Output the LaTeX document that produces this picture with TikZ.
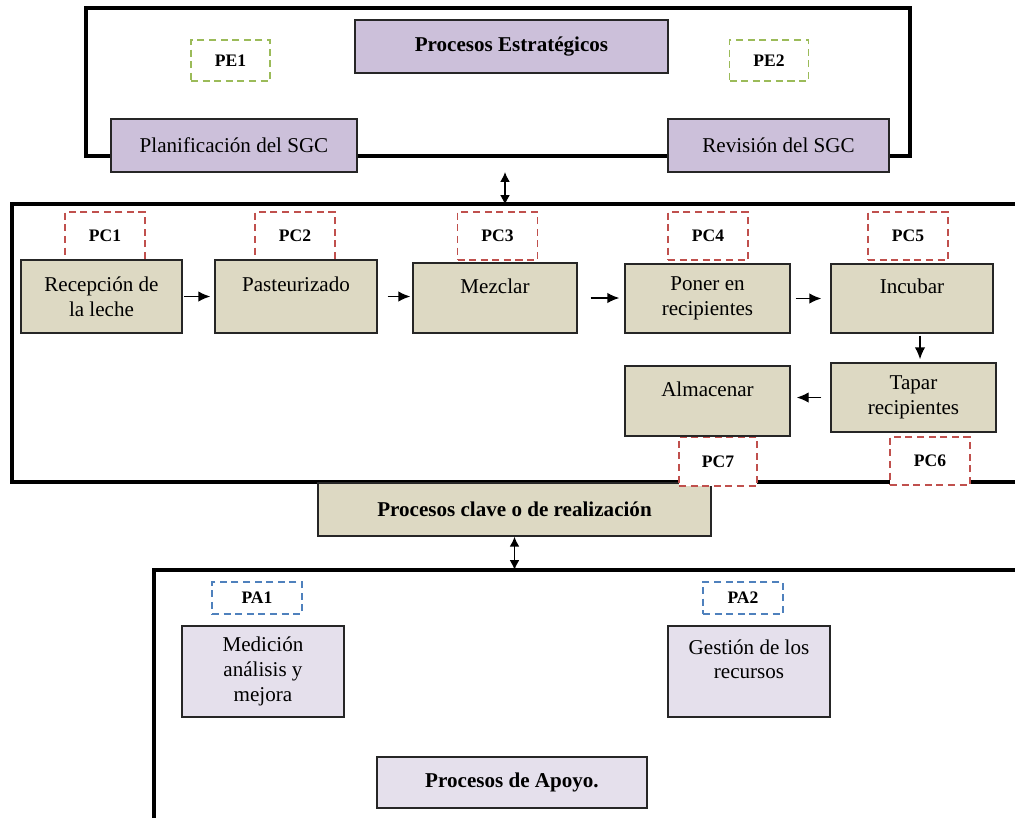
\documentclass[tikz,border=0pt]{standalone}
\usepackage{fontspec}
\setmainfont{Liberation Serif}
\usetikzlibrary{arrows.meta,positioning,calc}
\definecolor{lila}{HTML}{CCC0DA}
\definecolor{lilalight}{HTML}{E5E0EC}
\definecolor{tan}{HTML}{DDD9C3}
\definecolor{pegreen}{HTML}{9BBB59}
\definecolor{pcred}{HTML}{C0504D}
\definecolor{pablue}{HTML}{4F81BD}

\begin{document}
\begin{tikzpicture}[x=0.02cm,y=-0.02cm,font=\fontsize{12}{14}\selectfont,
  sz/.style 2 args={minimum width=#1*0.02cm,minimum height=#2*0.02cm},
  proc/.style={draw=black!85,line width=0.8pt,inner sep=1pt,align=center},
  title/.style={font=\fontsize{12}{14}\selectfont\bfseries},
  frame/.style={line width=2.4pt},
  tag/.style={draw=#1,dash pattern=on 4pt off 2.6pt,line width=1pt,fill=white,
              inner sep=0pt,font=\fontsize{10}{12}\selectfont\bfseries},
  flow/.style={-{Latex[length=2.4mm,width=2.1mm]},line width=0.8pt},
  link/.style={{Latex[length=2mm,width=2mm]}-{Latex[length=2mm,width=2mm]},line width=0.9pt}]
\clip (0,0) rectangle (1015,818);
% the three frames
\draw[frame] (86,8) rectangle (910,156);
\draw[frame] (12,204) rectangle (1040,482);
\draw[frame] (154,570) rectangle (1040,840);
% strategic processes
\node[proc,fill=lila,title,sz={313}{53}] (estr) at (511.5,46.5) {Procesos Estratégicos};
\node[tag=pegreen,sz={79}{41}] (pe1) at (230.5,60.5) {PE1};
\node[tag=pegreen,sz={79}{41}] (pe2) at (769,60.5) {PE2};
\node[proc,fill=lila,sz={246}{53}] (plan) at (234,145.5) {Planificación del SGC};
\node[proc,fill=lila,sz={221}{53}] (rev) at (778.5,145.5) {Revisión del SGC};
% key processes
\node[proc,fill=tan,title,sz={393}{53}] (clave) at (514.5,509.5) {Procesos clave o de realización};
\foreach \n/\x in {1/105,2/295,3/497.5,4/708,5/908}{
  \node[tag=pcred,sz={80}{48}] (pc\n) at (\x,236) {PC\n};
}
\node[tag=pcred,sz={78}{49}] (pc7) at (718,461.5) {PC7};
\node[tag=pcred,sz={80}{48}] (pc6) at (930,461) {PC6};
\node[proc,fill=tan,sz={161}{73}] (rec) at (101.5,296.5) {Recepción de\\la leche};
\node[proc,fill=tan,sz={162}{73}] (past) at (296,296.5) {Pasteurizado\\~};
\node[proc,fill=tan,sz={164}{70}] (mezc) at (495,298) {Mezclar\\~};
\node[proc,fill=tan,sz={165}{69}] (poner) at (707.5,298.5) {Poner en\\recipientes};
\node[proc,fill=tan,sz={162}{69}] (incub) at (912,298.5) {Incubar\\~};
\node[proc,fill=tan,sz={165}{69}] (tapar) at (913.5,397.5) {Tapar\\recipientes};
\node[proc,fill=tan,sz={165}{70}] (alm) at (707.5,401) {Almacenar\\~};
% flow arrows
\draw[flow,shorten <=0.3mm,shorten >=0.8mm] (rec.east) -- (rec.east -| past.west);
\draw[flow,shorten <=2mm,shorten >=0.4mm] (past.east) -- (past.east -| mezc.west);
\draw[flow,shorten <=2.6mm,shorten >=1mm] (mezc.east) -- (mezc.east -| poner.west);
\draw[flow,shorten <=1mm,shorten >=1.8mm] (poner.east) -- (poner.east -| incub.west);
\draw[flow,shorten <=0.4mm,shorten >=0.6mm] ([xshift=0.16cm]incub.south) -- ([xshift=0.16cm]incub.south |- tapar.north);
\draw[flow,shorten <=1.8mm,shorten >=1.2mm] (tapar.west) -- (tapar.west -| alm.east);
% support processes
\node[tag=pablue,sz={90}{32}] (pa1) at (257,598) {PA1};
\node[tag=pablue,sz={80}{32}] (pa2) at (743,598) {PA2};
\node[proc,fill=lilalight,sz={162}{91}] (med) at (263,671.5) {Medición\\análisis y\\mejora};
\node[proc,fill=lilalight,sz={162}{91}] (gest) at (749,671.5) {Gestión de los\\recursos\\~};
\node[proc,fill=lilalight,title,sz={270}{51}] (apoyo) at (512,782.5) {Procesos de Apoyo.};
% links between the levels
\coordinate (estrbot) at (505,172);
\coordinate (clavetop) at (505,205);
\coordinate (apoyotop) at (514.5,570);
\draw[link] (estrbot) -- (clavetop);
\draw[link] (clave.south) -- (apoyotop);
\end{tikzpicture}
\end{document}
